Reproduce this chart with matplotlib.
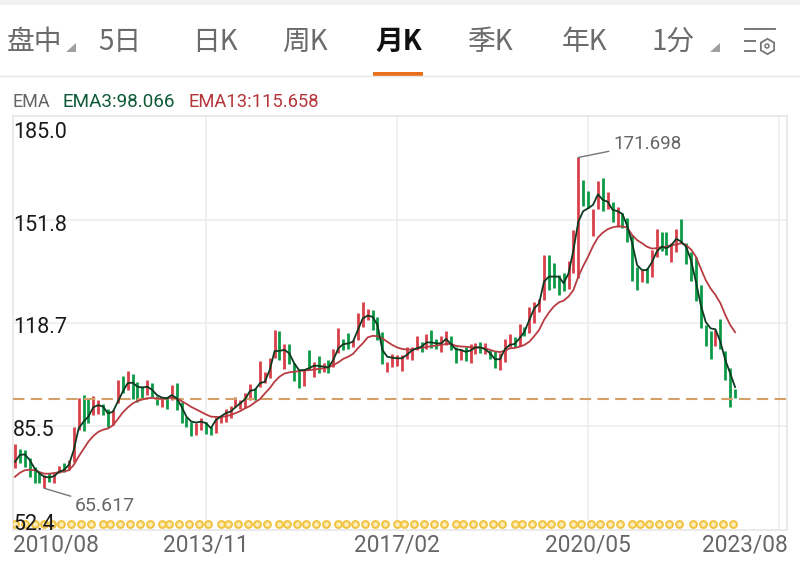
import matplotlib
matplotlib.use("Agg")
import matplotlib.pyplot as plt
import numpy as np
from matplotlib.patches import Polygon, Rectangle, Circle
from matplotlib.transforms import ScaledTranslation

# monthly candles, 2010/08 onwards
highs = [79.7, 78.2, 77.9, 75.2, 72.5, 70.9, 69.9, 70.4, 70.6, 72.8, 73.6, 74.7, 85.4, 94.5, 95.5, 94.1, 95.2, 93.9, 92.6, 91.2,
         90.7, 100.5, 101.6, 103.3, 102.3, 99.8, 98.4, 100.3, 99.5, 95.2, 94.8, 94.5, 98.7, 99.3, 93.4, 88.6, 87.0, 86.4, 88.0, 86.8,
         85.4, 88.6, 89.1, 90.9, 92.0, 95.0, 93.9, 96.1, 99.0, 97.7, 106.4, 102.8, 107.3, 116.4, 116.1, 111.9, 111.8, 105.7, 103.5, 103.9,
         110.0, 106.2, 108.0, 105.7, 106.8, 110.2, 116.9, 113.5, 115.3, 113.2, 121.9, 125.2, 123.0, 122.8, 120.6, 115.8, 106.2, 108.6, 108.2, 108.4,
         111.0, 110.8, 114.6, 112.6, 115.1, 116.4, 113.4, 114.5, 116.1, 114.5, 110.8, 110.2, 111.0, 111.8, 112.1, 112.6, 112.1, 110.0, 109.8, 108.9,
         113.4, 115.1, 114.2, 118.3, 117.2, 123.6, 125.2, 126.3, 140.3, 140.3, 138.0, 134.0, 134.5, 138.6, 148.4, 171.7, 164.5, 161.1, 155.1, 164.3,
         165.2, 160.7, 157.5, 155.9, 154.0, 152.2, 146.8, 136.7, 135.6, 136.1, 142.0, 148.7, 147.7, 147.9, 144.2, 148.7, 151.9, 144.2, 141.5, 139.9,
         130.8, 118.0, 116.0, 116.4, 119.8, 109.7, 104.1, 97.3]
lows = [72.0, 73.6, 72.3, 69.3, 67.2, 67.2, 65.6, 67.7, 67.4, 70.4, 70.9, 71.5, 74.2, 84.3, 84.1, 86.4, 89.1, 89.4, 89.1, 85.4,
        85.9, 92.9, 96.1, 97.1, 94.1, 93.4, 94.5, 95.5, 94.8, 92.3, 91.8, 91.2, 93.9, 90.7, 86.4, 85.4, 82.4, 82.7, 84.3, 83.0,
        82.7, 83.2, 86.4, 87.0, 88.0, 91.8, 91.2, 91.5, 93.9, 93.9, 98.0, 99.3, 100.9, 107.3, 106.8, 103.9, 105.5, 100.1, 97.7, 98.5,
        103.5, 101.4, 102.5, 102.8, 102.5, 104.4, 108.9, 110.0, 110.3, 111.0, 113.2, 117.4, 119.6, 116.4, 113.2, 105.5, 102.8, 104.4, 104.8, 103.3,
        107.0, 106.8, 110.0, 109.4, 110.2, 110.5, 110.2, 109.4, 111.6, 110.0, 105.7, 106.8, 106.4, 105.9, 108.7, 109.1, 108.6, 107.0, 104.1, 103.6,
        106.2, 110.8, 111.0, 111.2, 114.4, 115.5, 118.5, 122.3, 126.0, 129.2, 129.7, 127.6, 129.0, 129.4, 134.8, 132.9, 156.1, 155.4, 146.5, 155.1,
        154.5, 155.1, 150.9, 149.3, 149.0, 144.7, 132.2, 129.2, 131.9, 131.3, 133.5, 139.9, 141.8, 140.4, 138.3, 141.5, 144.2, 137.4, 132.2, 125.7,
        117.1, 111.2, 107.1, 111.2, 110.2, 100.5, 91.8, 94.5]
# r = up month, g = down month
colors = list("rgggggrgrr" "grrrggrrgg" "rrgrgggrgg" "rgrggggrrg" "grrrrrrrrg"
              "rrrrgrgggr" "grgrgrrggr" "rrrgggrrrr" "rrrgrggrrg" "grgrrgrggr"
              "rrgrgrrrrg" "gggrrrggrr" "grgrggggrg" "rrggrrgggg" "gggrgggg")

ema3 = [74.1, 76.3, 76.5, 74.7, 72.0, 70.4, 69.3, 69.1, 69.5, 70.9, 71.5, 73.1, 77.9, 84.8, 87.0, 88.6, 91.6, 92.3, 91.8, 89.6,
        90.2, 93.4, 96.6, 99.3, 99.5, 98.2, 97.9, 98.2, 97.2, 95.5, 94.7, 94.5, 95.5, 94.5, 91.8, 88.6, 87.0, 86.7, 87.0, 86.5,
        84.9, 87.5, 88.6, 89.7, 90.2, 91.6, 92.9, 94.2, 96.9, 97.2, 99.3, 99.8, 103.5, 109.6, 109.7, 110.0, 108.9, 105.7, 103.5, 103.5,
        104.1, 104.9, 104.9, 104.6, 104.4, 106.8, 110.5, 111.8, 112.1, 112.6, 116.4, 120.1, 121.0, 120.6, 118.0, 110.0, 107.8, 107.5, 107.3, 107.3,
        108.4, 109.8, 110.5, 111.0, 112.4, 112.4, 112.1, 112.1, 113.5, 111.9, 110.2, 110.0, 109.4, 109.8, 110.8, 110.8, 110.2, 108.9, 107.0, 107.0,
        110.2, 111.6, 111.9, 113.7, 115.8, 119.6, 123.3, 124.9, 131.9, 133.5, 133.5, 133.5, 131.4, 134.5, 142.0, 151.1, 154.5, 155.4, 156.5, 159.9,
        158.1, 157.5, 154.9, 154.5, 153.6, 149.7, 144.2, 137.2, 135.6, 135.6, 138.0, 141.5, 143.1, 142.6, 143.6, 145.6, 144.7, 143.1, 138.8, 131.9,
        124.4, 119.0, 116.9, 116.6, 112.6, 106.8, 102.5, 98.07]

ema13 = [69.3, 70.6, 71.4, 71.6, 71.4, 70.8, 70.3, 70.3, 70.5, 70.8, 71.0, 71.4, 73.1, 75.8, 78.2, 80.6, 82.4, 83.7, 84.4, 84.8,
         85.8, 87.8, 89.9, 91.5, 92.8, 93.6, 94.1, 94.5, 94.6, 94.4, 94.3, 94.4, 94.7, 94.5, 93.6, 92.7, 91.7, 90.9, 90.1, 89.3,
         88.6, 88.5, 88.5, 88.7, 89.1, 89.7, 90.4, 91.3, 92.0, 93.2, 94.2, 96.0, 97.7, 99.8, 101.4, 102.4, 102.8, 103.0, 103.2, 103.4,
         103.5, 103.7, 103.9, 104.1, 104.4, 105.1, 106.0, 107.1, 107.8, 108.7, 110.5, 112.1, 114.0, 114.5, 114.4, 113.7, 112.6, 111.6, 110.8, 110.3,
         110.1, 110.1, 110.4, 110.7, 110.9, 111.2, 111.4, 111.6, 111.9, 111.9, 111.3, 111.1, 111.0, 110.9, 110.8, 110.7, 110.5, 110.0, 109.5, 109.3,
         109.7, 110.5, 110.6, 111.0, 111.6, 112.6, 114.4, 116.4, 119.6, 122.0, 123.9, 125.2, 125.8, 127.1, 129.2, 133.5, 136.9, 139.9, 143.3, 146.0,
         147.6, 148.7, 149.3, 149.6, 149.6, 149.2, 146.8, 145.2, 144.2, 143.1, 142.5, 142.6, 142.9, 143.1, 143.6, 143.8, 144.2, 143.6, 142.2, 139.9,
         136.1, 132.4, 129.7, 127.6, 125.0, 121.2, 118.0, 115.66]

dot_months = [0, 2, 4, 6, 7.5, 9.5, 11.5, 13.5, 15.5, 18, 19.5, 21.5, 23.5, 25.5, 27.5, 30, 31.5, 33.5, 35.5, 37.5, 39.5,
              42, 43.5, 45.5, 47.5, 49.5, 51.5, 54, 55.5, 57.5, 59.5, 61.5, 63.5, 66, 67.5, 69.5, 71.5, 73.5, 75.5,
              78, 79.5, 81.5, 83.5, 85.5, 87.5, 90, 91.5, 93.5, 95.5, 97.5, 99.5, 102, 103.5, 105.5, 107.5, 109.5, 111.5,
              114, 115.5, 117.5, 119.5, 121.5, 123.5, 126, 127.5, 129.5, 131.5, 133.5, 135.5, 138.5, 140.5, 142.5, 144.5, 146.5]

y_ticks = [185.0, 151.8, 118.7, 85.5, 52.4]
y_labels = ["185.0", "151.8", "118.7", "85.5", "52.4"]
x_ticks = [0, 39, 78, 117, 156]
x_labels = ["2010/08", "2013/11", "2017/02", "2020/05", "2023/08"]
last_price = 94.4

tabs = ["盘中", "5日", "日K", "周K", "月K", "季K", "年K", "1分"]
tab_x = [7, 98, 192, 282, 375, 468, 562, 652]

RED = "#d8404a"
GREEN = "#0c9a48"
cjk = ["Noto Sans CJK SC", "DejaVu Sans"]
plt.rcParams["font.family"] = ["Roboto", "DejaVu Sans"]

fig = plt.figure(figsize=(8, 5.65), dpi=100)

# chart area, pixel box 13..787 / 116..529.5
ax = fig.add_axes([13 / 800, 1 - 529.5 / 565, 774 / 800, 413.5 / 565])
ax.set_xlim(-0.4, 157.6)
ax.set_ylim(52.4, 185.0)
for s in ax.spines.values():
    s.set_color("#e6e6e6")
    s.set_linewidth(1.2)
ax.set_axisbelow(True)
ax.xaxis.grid(True, color="#ececec", lw=1.1)
for v in y_ticks[1:4]:
    ax.axhline(v, color="#ececec", lw=1.1, zorder=1)

months = np.arange(len(highs))
bar_colors = [RED if c == "r" else GREEN for c in colors]
ax.vlines(months, lows, highs, colors=bar_colors, lw=2.0, zorder=3)
ax.axhline(last_price, color="#d3a06a", lw=1.5, dashes=(5.5, 3), zorder=5)
ax.plot(months, ema3, color="#0f3a22", lw=1.3, zorder=6)
ax.plot(months, ema13, color="#b83c42", lw=1.3, zorder=5)
ax.scatter(dot_months, [54.3] * len(dot_months), s=24, facecolor="#fbeeb8", edgecolor="#f3c444", lw=1.5, zorder=4)

# ticks, the y labels sit on top of the marks
ax.set_yticks(y_ticks, y_labels)
ax.set_xticks(x_ticks, x_labels)
ax.yaxis.set_zorder(8)
ax.tick_params(axis="both", length=0)
ax.tick_params(axis="y", pad=0, labelsize=15.5, labelcolor="#1a1a1a")
ax.tick_params(axis="x", pad=3, labelsize=16.3, labelcolor="#666666")
ax.get_xgridlines()[0].set_visible(False)
y_shift = [14, 3, 2, 2, -8]  # pixels down from the gridline
for lab, dy in zip(ax.get_yticklabels(), y_shift):
    lab.set_horizontalalignment("left")
    lab.set_transform(lab.get_transform() + ScaledTranslation(0, -dy / 100, fig.dpi_scale_trans))
xlabs = ax.get_xticklabels()
xlabs[0].set_horizontalalignment("left")
xlabs[0].set_transform(xlabs[0].get_transform() + ScaledTranslation(-2 / 100, 0, fig.dpi_scale_trans))
xlabs[-1].set_horizontalalignment("right")
xlabs[-1].set_transform(xlabs[-1].get_transform() + ScaledTranslation(9 / 100, 0, fig.dpi_scale_trans))

# max / min callouts
ax.annotate("171.698", xy=(115, 171.7), xytext=(25, 10), textcoords="offset points", fontsize=13.5, color="#666666",
            va="center", arrowprops=dict(arrowstyle="-", color="#777777", lw=1, shrinkA=1, shrinkB=0))
ax.annotate("65.617", xy=(6, 65.6), xytext=(22, -13), textcoords="offset points", fontsize=14, color="#666666",
            va="center", arrowprops=dict(arrowstyle="-", color="#777777", lw=1, shrinkA=1, shrinkB=0))

# app chrome, in pixels
ui = fig.add_axes([0, 0, 1, 1], zorder=-1)
ui.set_xlim(0, 800)
ui.set_ylim(565, 0)
ui.axis("off")
ui.add_patch(Rectangle((0, 0), 800, 5, color="#f2f2f2", lw=0))
ui.plot([0, 800], [76, 76], color="#e8e8e8", lw=1)
ui.add_patch(Rectangle((373, 72), 50, 4, color="#e8701c", lw=0))
for name, tx in zip(tabs, tab_x):
    active = name == "月K"
    ui.text(tx, 42, name, family=cjk, fontsize=20, va="center", ha="left",
            color="#111111" if active else "#6b6b6b", fontweight="bold" if active else "normal")
for tri in ([(66, 52), (76, 52), (76, 43)], [(710, 52), (720, 52), (720, 43)]):
    ui.add_patch(Polygon(tri, color="#a0a0a0", lw=0))
ui.text(13, 102, "EMA", fontsize=13, color="#666666", va="center")
ui.text(62, 102, "EMA3:98.066", fontsize=13.6, color="#0f5a38", va="center")
ui.text(188, 102, "EMA13:115.658", fontsize=13.2, color="#b5353b", va="center")

# settings icon
ui.plot([745, 775], [29, 29], color="#777777", lw=1.4)
ui.plot([745, 755], [41, 41], color="#777777", lw=1.4)
ui.plot([745, 755], [51, 51], color="#777777", lw=1.4)
ui.plot([767], [46], marker="h", ms=11, mfc="none", mec="#777777", mew=1.3)
ui.add_patch(Circle((767, 46), 2, fill=False, ec="#777777", lw=1.1))

fig.savefig("out.png", dpi=100)
